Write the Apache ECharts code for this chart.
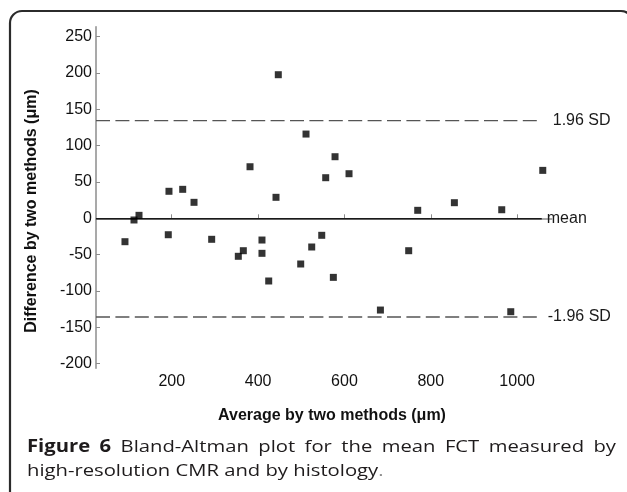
<!DOCTYPE html>
<html>
<head>
<meta charset="utf-8">
<script src="https://cdn.jsdelivr.net/npm/echarts@6/dist/echarts.min.js"></script>
<style>
html,body{margin:0;padding:0;background:#fff;}
#c{width:627px;height:492px;}
</style>
</head>
<body>
<div id="c"></div>
<script>
// ---- data ----
const avgValues = [91.7, 112.6, 124.2, 192, 193.6, 225.4, 251.6, 292.5, 354.2, 365.8, 381.3, 409, 409, 424.6, 441.5, 446.8, 498.7, 511, 524.2, 547.4, 556.6, 574.3, 578.2, 610.6, 683.3, 748.8, 769.7, 854.6, 964.3, 985.2, 1059.3];
const diffValues = [-32.2, -2.3, 4.1, -22.6, 37.2, 39.9, 22, -28.9, -52.3, -44.6, 71, -29.9, -48.2, -86.3, 28.9, 197.7, -62.9, 116, -39.5, -23.4, 55.9, -81.3, 84.8, 61.4, -126.3, -44.6, 11, 21.5, 11.8, -128.6, 66];
const refNames = ['1.96 SD', 'mean', '-1.96 SD'];
const refValues = [134.4, -0.7, -135.9];
const xTicks = [200, 400, 600, 800, 1000];
const yTicks = [-200, -150, -100, -50, 0, 50, 100, 150, 200, 250];
const xRange = [24.6, 1080];
const yRange = [-206.5, 263.8];
const refLineEnd = 1057;
const captionLine1 = ['Figure', '6', 'Bland-Altman', 'plot', 'for', 'the', 'mean', 'FCT', 'measured', 'by'];
const captionLine2 = 'high-resolution CMR and by histology';

const points = avgValues.map((v, i) => [v, diffValues[i]]);

const refSeries = refValues.map((v, i) => ({
  type: 'line',
  data: [[xRange[0], v], [refLineEnd, v]],
  symbol: 'none',
  silent: true,
  z: 1,
  lineStyle: i === 1
    ? { color: '#1a1a1a', width: 1.6, type: 'solid' }
    : { color: '#555', width: 1.3, type: [14, 5.4] },
  endLabel: {
    show: true,
    formatter: refNames[i],
    distance: i === 0 ? 11 : (i === 1 ? 5 : 6),
    color: '#1a1a1a',
    fontFamily: 'Liberation Sans, Arial, sans-serif',
    fontSize: 16
  }
}));

// caption layout (justified first line)
const capSize = 17, capScale = 1.19, capLeft = 27, capRight = 616;
const mctx = document.createElement('canvas').getContext('2d');
function measure(t, bold) {
  mctx.font = (bold ? 'bold ' : '') + capSize + 'px "Open Sans"';
  return mctx.measureText(t).width * capScale;
}
const widths = captionLine1.map((w, i) => measure(w, i < 2));
const totalW = widths.reduce((a, b) => a + b, 0);
const gap = (capRight - capLeft - totalW) / (captionLine1.length - 1);
const captionGraphics = [];
let cx = capLeft;
captionLine1.forEach((w, i) => {
  captionGraphics.push({
    type: 'text', x: cx, y: 447, scaleX: capScale, silent: true,
    style: {
      text: w, fontFamily: 'Open Sans', fontSize: capSize,
      fontWeight: i < 2 ? 'bold' : 'normal', fill: '#1e1b1c',
      verticalAlign: 'middle', align: 'left'
    }
  });
  cx += widths[i] + gap;
});
captionGraphics.push({
  type: 'text', x: capLeft, y: 471, scaleX: capScale, silent: true,
  style: {
    text: '{n|' + captionLine2 + '}{g|.}',
    verticalAlign: 'middle',
    rich: {
      n: { fontFamily: 'Open Sans', fontSize: capSize, fill: '#1e1b1c' },
      g: { fontFamily: 'Open Sans', fontSize: capSize, fill: '#888' }
    }
  }
});

const chart = echarts.init(document.getElementById('c'), null, { renderer: 'canvas' });
chart.setOption({
  animation: false,
  backgroundColor: '#fff',
  grid: { left: 96, right: 75.3, top: 26.7, bottom: 123.7, containLabel: false },
  xAxis: {
    type: 'value',
    min: xRange[0], max: xRange[1],
    splitLine: { show: false },
    axisLine: { show: true, lineStyle: { color: '#8c8c8c', width: 1.5 } },
    axisTick: { show: true, inside: true, length: 4, customValues: xTicks, lineStyle: { color: '#8c8c8c' } },
    axisLabel: { customValues: xTicks, formatter: v => String(v), color: '#111', fontSize: 16, margin: 5, fontFamily: 'Liberation Sans, Arial, sans-serif' }
  },
  yAxis: {
    type: 'value',
    min: yRange[0], max: yRange[1],
    splitLine: { show: false },
    axisLine: { show: true, lineStyle: { color: '#8c8c8c', width: 1.5 } },
    axisTick: { show: true, inside: true, length: 4, customValues: yTicks, lineStyle: { color: '#8c8c8c' } },
    axisLabel: { customValues: yTicks, formatter: v => String(v), color: '#111', fontSize: 16, margin: 4, fontFamily: 'Liberation Sans, Arial, sans-serif' }
  },
  series: [
    ...refSeries,
    {
      type: 'scatter',
      data: points,
      symbol: 'rect',
      symbolSize: 7,
      itemStyle: { color: '#000' },
      z: 3
    }
  ],
  graphic: [
    {
      type: 'rect',
      shape: { x: 10, y: 11, width: 623, height: 540, r: 12 },
      style: { fill: 'none', stroke: '#2b2b2b', lineWidth: 2.2 },
      silent: true
    },
    {
      type: 'text',
      x: 332, y: 416,
      style: {
        text: 'Average by two methods (μm)',
        fontFamily: 'Liberation Sans, Arial, sans-serif',
        fontWeight: 'bold', fontSize: 16, fill: '#111',
        align: 'center', verticalAlign: 'middle'
      }
    },
    {
      type: 'text',
      x: 32, y: 211,
      rotation: Math.PI / 2,
      style: {
        text: 'Difference by two methods (μm)',
        fontFamily: 'Liberation Sans, Arial, sans-serif',
        fontWeight: 'bold', fontSize: 16, fill: '#111',
        align: 'center', verticalAlign: 'middle'
      }
    },
    ...captionGraphics
  ]
});
</script>
</body>
</html>
